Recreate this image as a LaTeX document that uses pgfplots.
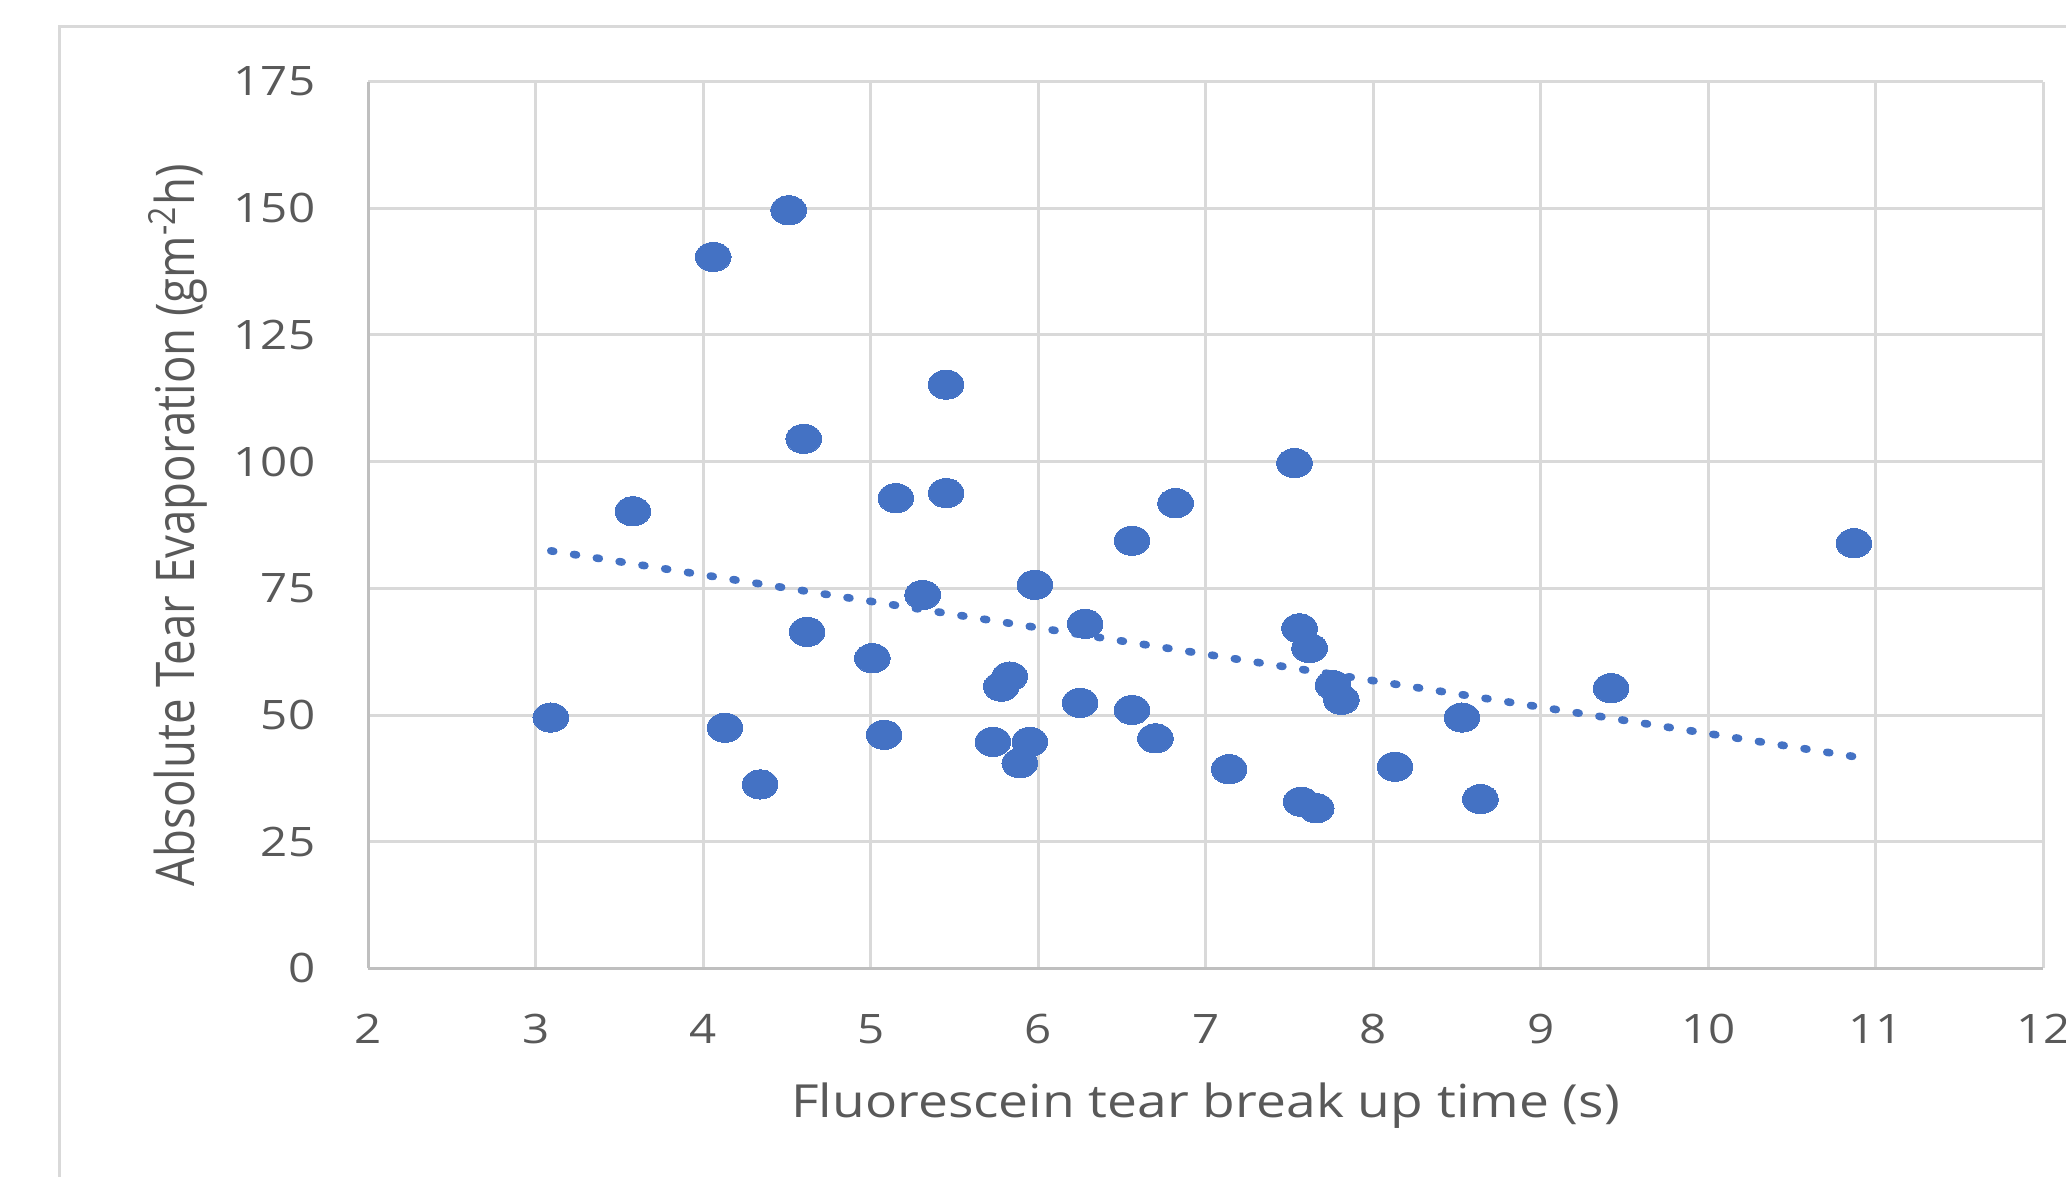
\documentclass[border=0pt]{standalone}
\usepackage{pgfplots}
\pgfplotsset{compat=1.18}
\usepackage{fontspec}
\setmainfont{Open Sans}
\definecolor{ptblue}{HTML}{4472C4}
\definecolor{gridgray}{HTML}{D9D9D9}
\definecolor{axisgray}{HTML}{BFBFBF}
\definecolor{txtgray}{HTML}{595959}
\begin{document}
\begin{tikzpicture}
\useasboundingbox (0,0) rectangle (516.5pt,294.25pt);
\clip (0,0) rectangle (516.5pt,294.25pt);
\draw[gridgray, line width=0.75pt] (14.9pt,-5pt) -- (14.9pt,287.5pt) -- (530pt,287.5pt);
\begin{axis}[
  at={(92.05pt,52.15pt)}, anchor=south west,
  scale only axis, width=418.75pt, height=221.7pt,
  xmin=2, xmax=12, ymin=0, ymax=175,
  enlargelimits=false,
  xtick={2,3,...,12}, ytick={0,25,...,175},
  axis x line*=bottom, axis y line*=left,
  axis line style={axisgray, line width=0.75pt},
  grid=major, major grid style={gridgray, line width=0.75pt},
  major tick length=0pt,
  /pgf/number format/assume math mode=true,
  tick label style={font=\fontsize{10.15pt}{12pt}\selectfont, text=txtgray, inner sep=0pt, xscale=1.17},
  xticklabel shift=11.3pt, yticklabel shift=13pt,
  xlabel={Fluorescein tear break up time (s)},
  ylabel={Absolute Tear Evaporation (gm\textsuperscript{-2}h)},
  label style={font=\fontsize{11.4pt}{13.5pt}\selectfont, text=txtgray, inner sep=0pt},
  xlabel style={at={(axis description cs:0.5,-0.1546)}, anchor=center, xscale=1.17},
  ylabel style={at={(axis description cs:-0.1136,0.5)}, anchor=center, yscale=1.17},
  clip=false,
]
\addplot[ptblue, only marks, mark=*, mark size=3.65pt, mark options={xscale=1.22, fill=ptblue, draw=ptblue, line width=0pt}] coordinates {
(3.09,49.5) (3.58,90.2) (4.06,140.4) (4.13,47.5) (4.34,36.3) (4.51,149.6)
(4.60,104.5) (4.62,66.4) (5.01,61.2) (5.08,46.1) (5.15,92.8) (5.31,73.7)
(5.45,115.2) (5.45,93.8) (5.73,44.7) (5.78,55.6) (5.83,57.6) (5.89,40.5)
(5.95,44.7) (5.98,75.7) (6.25,52.4) (6.28,68.0) (6.56,84.4) (6.56,51.0)
(6.70,45.4) (6.82,91.8) (7.14,39.3) (7.53,99.7) (7.56,67.1) (7.62,63.2)
(7.57,32.9) (7.66,31.6) (7.76,55.9) (7.81,53.0) (8.13,39.8) (8.53,49.5)
(8.64,33.4) (9.42,55.3) (10.87,83.9)
};
\addplot[ptblue, line width=1.9pt, line cap=round, dash pattern=on 0.75pt off 5.017pt] coordinates {
(3.09,82.4) (10.87,41.8)
};
\end{axis}
\end{tikzpicture}
\end{document}
